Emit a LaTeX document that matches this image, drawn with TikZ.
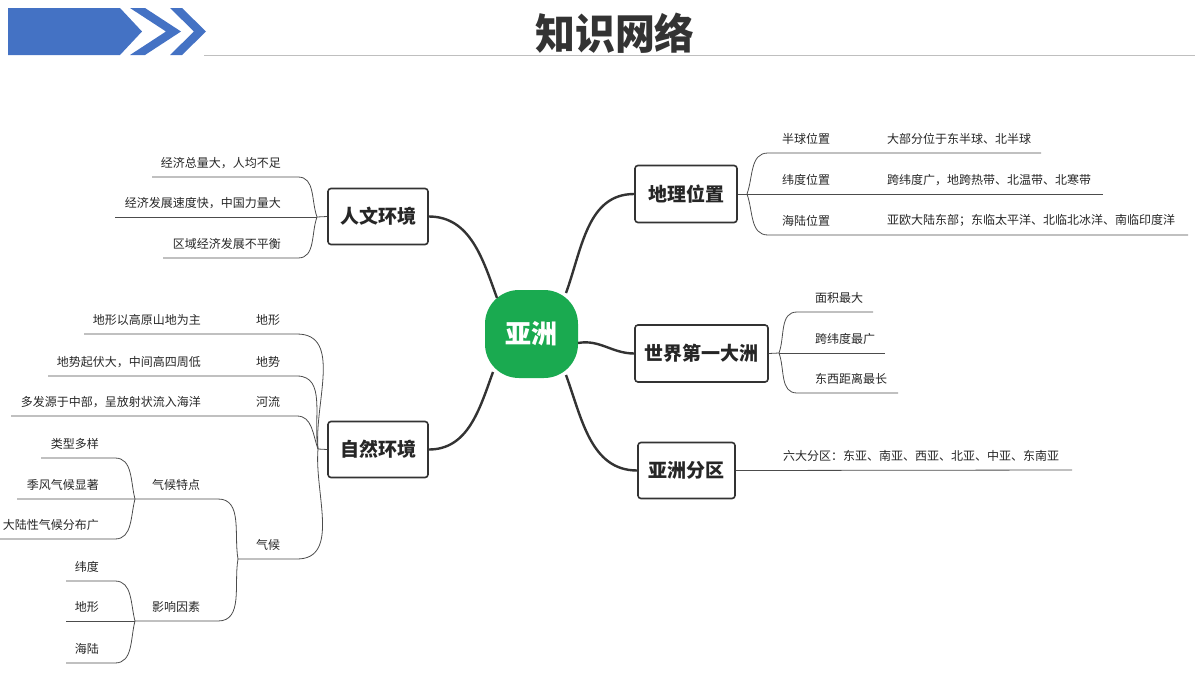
\documentclass[tikz,border=0pt]{standalone}
\usepackage{fontspec}
\setmainfont{Noto Sans CJK SC}
\begin{document}
\begin{tikzpicture}[x=1pt,y=-1pt,
  box/.style={draw=black!80,line width=1.6pt,rounded corners=3pt,fill=white,font=\fontsize{19}{19}\selectfont\bfseries,text=black!85,inner sep=0pt},
  lbl/.style={font=\fontsize{12}{13}\selectfont,text=black!85,inner sep=0pt},
  br/.style={draw=black!70,line width=0.8pt},
  main/.style={draw=black!80,line width=2.4pt}]
\useasboundingbox (0,0) rectangle (1200,675);
% header
\fill[fill={rgb,255:red,68;green,114;blue,196}] (8,8) -- (120,8) -- (142,31.5) -- (120,55) -- (8,55) -- cycle;
\fill[fill={rgb,255:red,68;green,114;blue,196}] (130,8) -- (145,8) -- (181,31.5) -- (145,55) -- (130,55) -- (166,31.5) -- cycle;
\fill[fill={rgb,255:red,68;green,114;blue,196}] (170,8) -- (182,8) -- (206,31.5) -- (182,55) -- (170,55) -- (194,31.5) -- cycle;
\draw[black!25,line width=1pt] (204,55) -- (1195,55);
\node[font=\fontsize{42}{42}\selectfont\bfseries,text=black!80,xscale=0.95] (title) at (615,33) {知识网络};
% center
\node[fill={rgb,255:red,26;green,170;blue,80},rounded corners=34pt,minimum width=93pt,minimum height=88pt,text=white,font=\fontsize{26}{26}\selectfont\bfseries] (asia) at (531.5,334) {亚洲};
% boxes
\node[box,minimum width=100pt,minimum height=56pt] (rw) at (378,216.5) {人文环境};
\node[box,minimum width=100pt,minimum height=56pt] (zr) at (378,449.5) {自然环境};
\node[box,minimum width=102pt,minimum height=57pt] (dl) at (686,194) {地理位置};
\node[box,minimum width=133pt,minimum height=57pt] (sj) at (701.5,353.5) {世界第一大洲};
\node[box,minimum width=97pt,minimum height=56pt] (fq) at (686.5,470.5) {亚洲分区};
% main connectors
\coordinate (a1) at (497,298); \coordinate (a2) at (493,372);
\coordinate (a3) at (566,293); \coordinate (a4) at (578,343); \coordinate (a5) at (566,375);
\draw[main] (rw.east) to[out=0,in=110] (a1);
\draw[main] (zr.east) to[out=0,in=250] (a2);
\draw[main] (a3) to[out=70,in=180] (dl.west);
\draw[main] (a4) to[out=10,in=180] (sj.west);
\draw[main] (a5) to[out=-70,in=180] (fq.west);
% right: 地理位置
\coordinate (jd) at (747,194);
\draw[br] (dl.east) -- (jd);
\coordinate (d1) at (768,153); \coordinate (d1e) at (1041,153);
\coordinate (d2e) at (1103,194);
\coordinate (d3) at (768,235); \coordinate (d3e) at (1188,235);
\draw[br] (jd) to[out=70,in=180] (d1) -- (d1e);
\draw[br] (jd) -- (d2e);
\draw[br] (jd) to[out=-70,in=180] (d3) -- (d3e);
\node[lbl,anchor=south west] (t1) at (782,145) {半球位置};
\node[lbl,anchor=south west] (t1b) at (887,145) {大部分位于东半球、北半球};
\node[lbl,anchor=south west] (t2) at (782,186) {纬度位置};
\node[lbl,anchor=south west] (t2b) at (887,186) {跨纬度广，地跨热带、北温带、北寒带};
\node[lbl,anchor=south west] (t3) at (782,227) {海陆位置};
\node[lbl,anchor=south west] (t3b) at (887,227) {亚欧大陆东部；东临太平洋、北临北冰洋、南临印度洋};
% 世界第一大洲
\coordinate (js) at (779,353);
\draw[br] (sj.east) -- (js);
\coordinate (s1) at (797,312); \coordinate (s1e) at (873,312);
\coordinate (s2e) at (885,353);
\coordinate (s3) at (797,393); \coordinate (s3e) at (898,393);
\draw[br] (js) to[out=70,in=180] (s1) -- (s1e);
\draw[br] (js) -- (s2e);
\draw[br] (js) to[out=-70,in=180] (s3) -- (s3e);
\node[lbl,anchor=south west] (u1) at (815,304) {面积最大};
\node[lbl,anchor=south west] (u2) at (815,345) {跨纬度最广};
\node[lbl,anchor=south west] (u3) at (815,385) {东西距离最长};
% 亚洲分区
\coordinate (fe) at (1072,470);
\draw[br] (fq.east) -- (fe);
\node[lbl,anchor=south west] (f1) at (783,462) {六大分区：东亚、南亚、西亚、北亚、中亚、东南亚};
% 人文环境
\coordinate (jr) at (317,217);
\draw[br] (rw.west) -- (jr);
\coordinate (r1) at (298,177); \coordinate (r1s) at (152,177);
\coordinate (r2s) at (115,217);
\coordinate (r3) at (298,258); \coordinate (r3s) at (163,258);
\draw[br] (r1s) -- (r1) to[out=0,in=110] (jr);
\draw[br] (r2s) -- (jr);
\draw[br] (r3s) -- (r3) to[out=0,in=-110] (jr);
\node[lbl,anchor=south east] (v1) at (281,169) {经济总量大，人均不足};
\node[lbl,anchor=south east] (v2) at (281,209) {经济发展速度快，中国力量大};
\node[lbl,anchor=south east] (v3) at (281,250) {区域经济发展不平衡};
% 自然环境
\coordinate (jz) at (318,449);
\draw[br] (zr.west) -- (jz);
\coordinate (z1) at (297,334); \coordinate (z1s) at (84,334);
\coordinate (z2) at (297,376); \coordinate (z2s) at (48,376);
\coordinate (z3) at (297,416); \coordinate (z3s) at (11,416);
\coordinate (z4) at (297,559); \coordinate (z4s) at (238,559);
\draw[br] (z1s) -- (z1) to[out=0,in=95] (jz);
\draw[br] (z2s) -- (z2) to[out=0,in=100] (jz);
\draw[br] (z3s) -- (z3) to[out=0,in=110] (jz);
\draw[br] (z4s) -- (z4) to[out=0,in=-95] (jz);
\node[lbl,anchor=south] (w1) at (268,326) {地形};
\node[lbl,anchor=south] (w2) at (268,368) {地势};
\node[lbl,anchor=south] (w3) at (268,408) {河流};
\node[lbl,anchor=south] (w4) at (268,551) {气候};
\node[lbl,anchor=south east] (x1) at (201,326) {地形以高原山地为主};
\node[lbl,anchor=south east] (x2) at (201,368) {地势起伏大，中间高四周低};
\node[lbl,anchor=south east] (x3) at (201,408) {多发源于中部，呈放射状流入海洋};
% 气候 sub
\coordinate (q1) at (218,499); \coordinate (q1s) at (17,499);
\coordinate (q2) at (218,621); \coordinate (q2s) at (135,621);
\draw[br] (q1s) -- (q1) to[out=0,in=100] (z4s);
\draw[br] (q2s) -- (q2) to[out=0,in=-100] (z4s);
\node[lbl,anchor=south] (y1) at (176,491) {气候特点};
\node[lbl,anchor=south] (y2) at (176,613) {影响因素};
\coordinate (jq1) at (135,499); \coordinate (jq2) at (135,621);
\coordinate (c1) at (115,458); \coordinate (c1s) at (41,458);
\coordinate (c3) at (115,539); \coordinate (c3s) at (0,539);
\draw[br] (c1s) -- (c1) to[out=0,in=105] (jq1);
\draw[br] (c3s) -- (c3) to[out=0,in=-105] (jq1);
\node[lbl,anchor=south east] (k1) at (99,450) {类型多样};
\node[lbl,anchor=south east] (k2) at (99,491) {季风气候显著};
\node[lbl,anchor=south east] (k3) at (99,531) {大陆性气候分布广};
\coordinate (e1) at (115,581); \coordinate (e1s) at (66,581);
\coordinate (e2s) at (66,621);
\coordinate (e3) at (115,663); \coordinate (e3s) at (66,663);
\draw[br] (e1s) -- (e1) to[out=0,in=105] (jq2);
\draw[br] (e2s) -- (jq2);
\draw[br] (e3s) -- (e3) to[out=0,in=-105] (jq2);
\node[lbl,anchor=south east] (m1) at (99,573) {纬度};
\node[lbl,anchor=south east] (m2) at (99,613) {地形};
\node[lbl,anchor=south east] (m3) at (99,655) {海陆};
\end{tikzpicture}
\end{document}
